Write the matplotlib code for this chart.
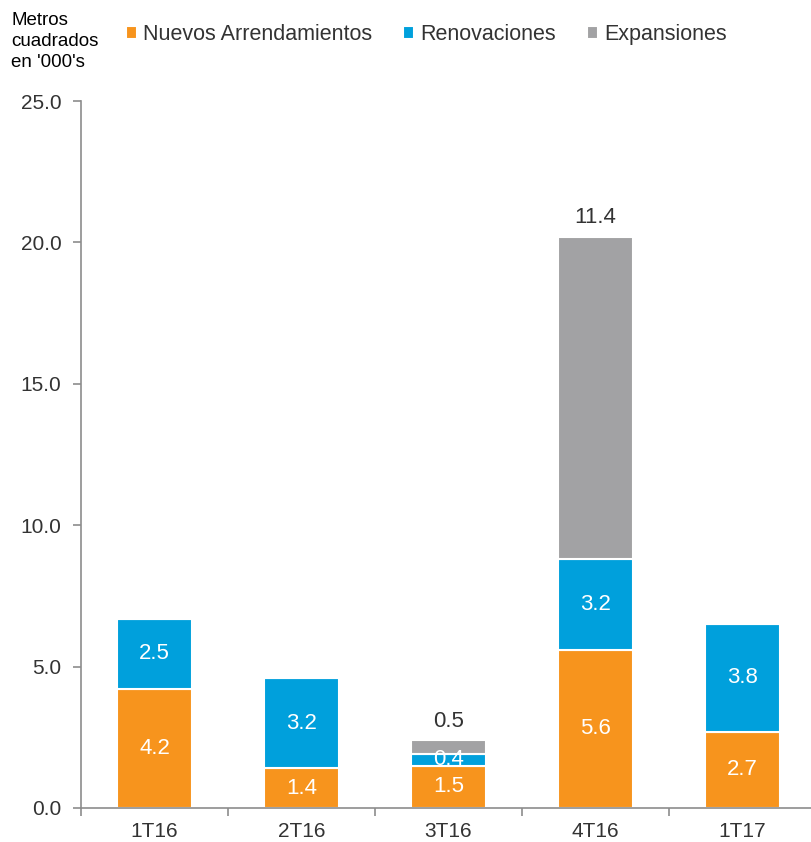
import numpy as np
import matplotlib.pyplot as plt

plt.rcParams['font.family'] = ['Liberation Sans', 'DejaVu Sans']

quarters = ['1T16', '2T16', '3T16', '4T16', '1T17']
nuevos = [4.2, 1.4, 1.5, 5.6, 2.7]
renovaciones = [2.5, 3.2, 0.4, 3.2, 3.8]
expansiones = [0.0, 0.0, 0.5, 11.4, 0.0]
y_ticks = [0.0, 5.0, 10.0, 15.0, 20.0, 25.0]

c_orange = '#F7941D'
c_blue = '#00A0DC'
c_grey = '#A2A2A4'
txt = '#333333'
axis_col = '#8C8C8C'

fig = plt.figure(figsize=(8.12, 8.42), dpi=100)
ax = fig.add_axes([0.0998, 0.0404, 0.905, 0.8396])

ind = np.arange(len(quarters))
w = 0.51
nuevos = np.array(nuevos)
renovaciones = np.array(renovaciones)
expansiones = np.array(expansiones)

b1 = ax.bar(ind, nuevos, w, color=c_orange, edgecolor='white', linewidth=1.5,
            label='Nuevos Arrendamientos')
b2 = ax.bar(ind, renovaciones, w, bottom=nuevos, color=c_blue, edgecolor='white',
            linewidth=1.5, label='Renovaciones')
b3 = ax.bar(ind, expansiones, w, bottom=nuevos + renovaciones, color=c_grey,
            edgecolor='white', linewidth=1.5, label='Expansiones')

# value labels
for i in ind:
    ax.text(i, nuevos[i] / 2, f'{nuevos[i]:.1f}', ha='center', va='center',
            color='white', fontsize=16)
    ax.text(i, nuevos[i] + renovaciones[i] / 2, f'{renovaciones[i]:.1f}',
            ha='center', va='center', color='white', fontsize=16)
    if expansiones[i] > 0:
        top = nuevos[i] + renovaciones[i] + expansiones[i]
        ax.text(i, top + 0.3, f'{expansiones[i]:.1f}', ha='center', va='bottom',
                color=txt, fontsize=16)

ax.set_xlim(-0.5, len(quarters) - 0.5)
ax.set_ylim(0, 25)
ax.set_yticks(y_ticks)
ax.set_yticklabels([f'{v:.1f}' for v in y_ticks])
ax.set_xticks(ind)
ax.set_xticklabels(quarters)
ax.set_xticks(np.arange(len(quarters) + 1) - 0.5, minor=True)

ax.tick_params(axis='x', which='major', length=0, pad=10, labelsize=15, labelcolor=txt)
ax.tick_params(axis='x', which='minor', length=6, color=axis_col, width=1.2)
ax.tick_params(axis='y', length=6, color=axis_col, width=1.2, pad=8,
               labelsize=15, labelcolor=txt)

for s in ['top', 'right']:
    ax.spines[s].set_visible(False)
for s in ['left', 'bottom']:
    ax.spines[s].set_color(axis_col)
    ax.spines[s].set_linewidth(1.2)

fig.text(0.014, 0.986, "Metros\ncuadrados\nen '000's", ha='left', va='top',
         fontsize=13.5, color='black', linespacing=1.3)

fig.legend(handles=[b1, b2, b3], loc='center left', bbox_to_anchor=(0.131, 0.959),
           ncol=3, frameon=False, fontsize=15.5, handlelength=0.5, handleheight=0.5,
           handletextpad=0.3, columnspacing=1.45, labelcolor=txt)

fig.savefig('out.png', dpi=100)
